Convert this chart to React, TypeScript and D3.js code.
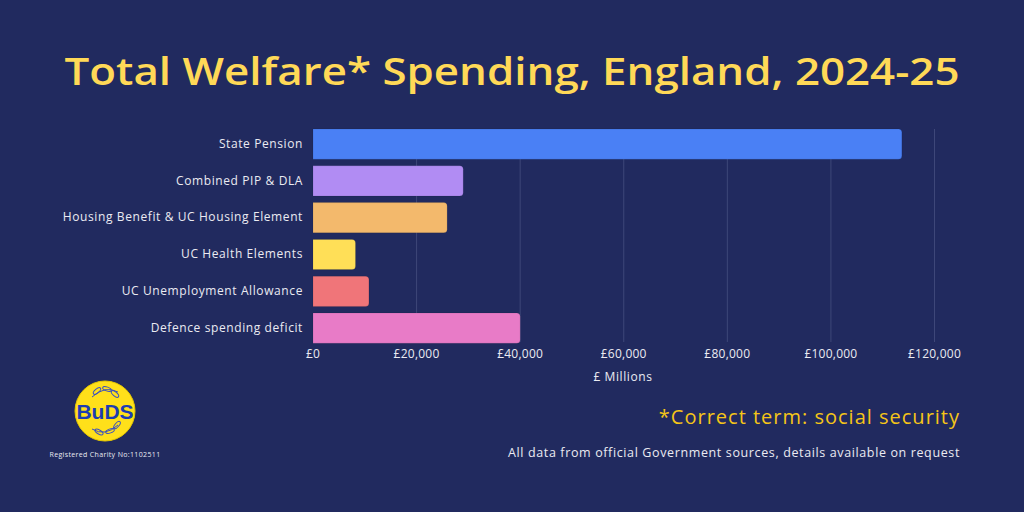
import React from 'react'
import * as d3 from 'd3'

const W = 1024
const H = 512

const categories = [
  'State Pension',
  'Combined PIP & DLA',
  'Housing Benefit & UC Housing Element',
  'UC Health Elements',
  'UC Unemployment Allowance',
  'Defence spending deficit',
]
const spending = [113700, 29000, 25900, 8200, 10800, 40000]
const barColors = ['#4a80f5', '#b18cf3', '#f3b96c', '#ffdf57', '#f07579', '#e87bc7']
const xTicks = [0, 20000, 40000, 60000, 80000, 100000, 120000]

const BG = '#212a5f'
const FONT = "'Open Sans', 'DejaVu Sans', sans-serif"
const TEXT = '#ebebf2'

// bar with square left end and rounded right end
function barPath(x0: number, x1: number, y: number, h: number, r: number) {
  const rr = Math.min(r, (x1 - x0) / 2, h / 2)
  return `M${x0},${y}H${x1 - rr}Q${x1},${y} ${x1},${y + rr}V${y + h - rr}Q${x1},${y + h} ${x1 - rr},${y + h}H${x0}Z`
}

function Logo({ cx, cy }: { cx: number; cy: number }) {
  const leaf = (x: number, y: number, rot: number) => (
    <ellipse cx={x} cy={y} rx={4.5} ry={2} fill="none" stroke="#3a4fc0" strokeWidth={1}
      transform={`rotate(${rot} ${x} ${y})`} />
  )
  return (
    <g>
      <circle cx={cx} cy={cy} r={30} fill="#ffe01a" stroke="#e6c800" strokeWidth={1} />
      <path d={`M${cx - 13},${cy - 14} Q${cx},${cy - 26} ${cx + 13},${cy - 19}`} fill="none" stroke="#3a4fc0" strokeWidth={1} />
      {leaf(cx - 8, cy - 20, -40)}
      {leaf(cx + 2, cy - 22, 20)}
      {leaf(cx + 10, cy - 17, 40)}
      <text x={cx} y={cy + 7.5} textAnchor="middle" fontFamily="'Liberation Sans', Arial, sans-serif"
        fontSize={21} fontWeight={700} fill="#1c3cb3">BuDS</text>
      <path d={`M${cx - 13},${cy + 18} Q${cx},${cy + 26} ${cx + 13},${cy + 14}`} fill="none" stroke="#3a4fc0" strokeWidth={1} />
      {leaf(cx - 6, cy + 21, 30)}
      {leaf(cx + 5, cy + 20, -20)}
      {leaf(cx + 12, cy + 14, -50)}
    </g>
  )
}

export default function App() {
  const x = d3.scaleLinear().domain([0, 120000]).range([313, 934.5])
  const y = d3
    .scaleBand<string>()
    .domain(categories)
    .range([125.7, 346.5])
    .paddingInner(0.18)
    .paddingOuter(0.09)
  const bw = y.bandwidth()

  return (
    <svg width={W} height={H} style={{ position: 'absolute', left: 0, top: 0, display: 'block' }}>
      <rect width={W} height={H} fill={BG} />

      <text x={512} y={85} textAnchor="middle" fontFamily={FONT} fontSize={38} fontWeight={600}
        fill="#ffd957" textLength={895} lengthAdjust="spacingAndGlyphs">
        Total Welfare* Spending, England, 2024-25
      </text>

      {/* vertical gridlines */}
      {xTicks.slice(1).map(t => (
        <line key={t} x1={x(t)} x2={x(t)} y1={129} y2={342} stroke="#3e4779" strokeWidth={1} />
      ))}

      {categories.map((c, i) => (
        <path key={c} d={barPath(x(0), x(spending[i]), y(c)!, bw, 3.5)} fill={barColors[i]}
          stroke="rgba(0,0,0,0.15)" strokeWidth={0.6} />
      ))}

      {categories.map(c => (
        <text key={c} x={303} y={y(c)! + bw / 2} dy="0.3em" textAnchor="end" fontFamily={FONT}
          fontSize={12} fontWeight={500} letterSpacing="0.05em" fill={TEXT}>
          {c}
        </text>
      ))}

      {xTicks.map(t => (
        <text key={t} x={x(t)} y={358} textAnchor="middle" fontFamily={FONT} fontSize={12}
          fontWeight={500} letterSpacing="0.02em" fill={TEXT}>
          {'£' + d3.format(',')(t)}
        </text>
      ))}
      <text x={623} y={381} textAnchor="middle" fontFamily={FONT} fontSize={12} fontWeight={500}
        letterSpacing="0.05em" fill={TEXT}>
        £ Millions
      </text>

      <Logo cx={105} cy={411} />
      <text x={105} y={457} textAnchor="middle" fontFamily={FONT} fontSize={7} letterSpacing="0.05em" fill={TEXT}>
        Registered Charity No:1102511
      </text>

      <text x={960} y={424} textAnchor="end" fontFamily={FONT} fontSize={20} fontWeight={500}
        letterSpacing="0.05em" fill="#f5c518">
        *Correct term: social security
      </text>
      <text x={960} y={457} textAnchor="end" fontFamily={FONT} fontSize={12.5} fontWeight={500}
        letterSpacing="0.05em" fill={TEXT}>
        All data from official Government sources, details available on request
      </text>
    </svg>
  )
}
